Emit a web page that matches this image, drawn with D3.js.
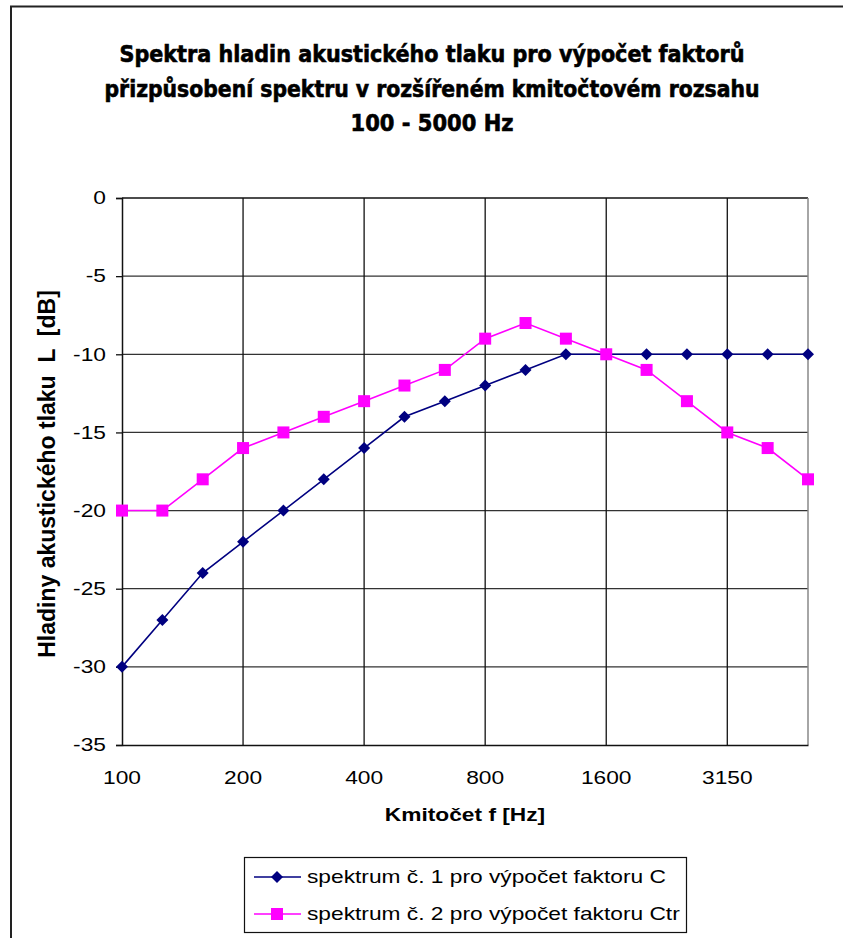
<!DOCTYPE html>
<html>
<head>
<meta charset="utf-8">
<script src="https://cdn.jsdelivr.net/npm/d3@7/dist/d3.min.js"></script>
<style>
  html, body { margin: 0; padding: 0; background: #fff; }
  svg { display: block; }
</style>
</head>
<body>
<svg id="chart" width="843" height="938"></svg>
<script>
// Third-octave band centre frequencies (Hz)
const frequencies = ["100","125","160","200","250","315","400","500","630","800","1000","1250","1600","2000","2500","3150","4000","5000"];
// Labelled frequency ticks
const tickLabels = ["100","200","400","800","1600","3150"];
// Value axis ticks (dB)
const yTicks = [0,-5,-10,-15,-20,-25,-30,-35];
// Spectrum No. 1 (for C)
const spectrum1 = [-30,-27,-24,-22,-20,-18,-16,-14,-13,-12,-11,-10,-10,-10,-10,-10,-10,-10];
// Spectrum No. 2 (for Ctr)
const spectrum2 = [-20,-20,-18,-16,-15,-14,-13,-12,-11,-9,-8,-9,-10,-11,-13,-15,-16,-18];

const titleLines = [
  "Spektra hladin akustického tlaku pro výpočet faktorů",
  "přizpůsobení spektru v rozšířeném kmitočtovém rozsahu",
  "100 - 5000 Hz"
];
const seriesNames = [
  "spektrum č. 1 pro výpočet faktoru C",
  "spektrum č. 2 pro výpočet faktoru Ctr"
];

const svg = d3.select("#chart");
const plot = { left: 122, right: 808, top: 198, bottom: 745 };
const font = "'Liberation Sans', Arial, sans-serif";
const stretch = 1.3;   // horizontally widened label type

// Places a horizontally widened label at (x, y)
function label(parent, x, y, str, opts = {}) {
  return parent.append("text")
    .attr("transform", `translate(${x},${y}) scale(${stretch},1)`)
    .attr("text-anchor", opts.anchor || "start")
    .attr("dy", opts.dy || null)
    .attr("font-family", font)
    .attr("font-size", opts.size || 17.5)
    .attr("font-weight", opts.weight || "normal")
    .attr("fill", "#000")
    .text(str);
}

// Outer frame (top and left edges)
svg.append("path")
  .attr("d", "M11,938 V6.5 H843")
  .attr("fill", "none").attr("stroke", "#222").attr("stroke-width", 2);

// Title (heavy, condensed)
const titleWidths = [625, 655, 163];
const titleBase = [62, 97, 131];
svg.append("g").selectAll("text").data(titleLines).join("text")
  .attr("x", 432).attr("y", (d, i) => titleBase[i])
  .attr("text-anchor", "middle")
  .attr("font-family", "'Liberation Sans Narrow', 'DejaVu Sans Condensed', Arial, sans-serif")
  .attr("font-weight", "bold").attr("font-size", 23.5)
  .attr("stroke", "#000").attr("stroke-width", 0.6)
  .attr("textLength", (d, i) => titleWidths[i])
  .attr("lengthAdjust", "spacingAndGlyphs")
  .text(d => d);

// Scales
const x = d3.scalePoint().domain(frequencies).range([plot.left, plot.right]);
const y = d3.scaleLinear().domain([-35, 0]).range([plot.bottom, plot.top]);

// Horizontal gridlines
svg.append("g").selectAll("line").data(yTicks.filter(v => v !== 0 && v !== -35)).join("line")
  .attr("x1", plot.left).attr("x2", plot.right)
  .attr("y1", d => y(d)).attr("y2", d => y(d))
  .attr("stroke", "#333").attr("stroke-width", 1.3);

// Vertical gridlines at labelled frequencies
svg.append("g").selectAll("line").data(tickLabels.filter(f => f !== "100")).join("line")
  .attr("x1", d => x(d)).attr("x2", d => x(d))
  .attr("y1", plot.top).attr("y2", plot.bottom)
  .attr("stroke", "#111").attr("stroke-width", 1.3);

// Plot border: top, right (grey)
svg.append("line").attr("x1", plot.left).attr("x2", plot.right)
  .attr("y1", plot.top).attr("y2", plot.top).attr("stroke", "#111").attr("stroke-width", 1.5);
svg.append("line").attr("x1", plot.right).attr("x2", plot.right)
  .attr("y1", plot.top).attr("y2", plot.bottom).attr("stroke", "#888").attr("stroke-width", 1.5);

// Y axis (line and ticks), labels drawn separately
const yAxis = d3.axisLeft(y).tickValues(yTicks).tickSize(6).tickFormat("");
const yg = svg.append("g").attr("transform", `translate(${plot.left},0)`).call(yAxis);
yg.select(".domain").attr("stroke", "#111").attr("stroke-width", 1.5);
yg.selectAll(".tick line").attr("stroke", "#111").attr("stroke-width", 1.3);
const yLabels = svg.append("g");
yTicks.forEach(v => label(yLabels, 106, y(v), v === 0 ? "0" : "-" + Math.abs(v), { anchor: "end", dy: "0.36em" }));

// X axis (line), labels drawn separately
const xAxis = d3.axisBottom(x).tickValues(tickLabels).tickSize(0).tickFormat("");
const xg = svg.append("g").attr("transform", `translate(0,${plot.bottom})`).call(xAxis);
xg.select(".domain").attr("stroke", "#111").attr("stroke-width", 1.5);
const xLabels = svg.append("g");
tickLabels.forEach(f => label(xLabels, x(f), 784, f, { anchor: "middle" }));

// Axis titles
label(svg, 465, 821, "Kmitočet f [Hz]", { anchor: "middle", weight: "bold" });
svg.append("text").attr("transform", "translate(55,474) rotate(-90)").attr("text-anchor", "middle")
  .attr("font-family", font).attr("font-weight", "bold").attr("font-size", 23)
  .attr("xml:space", "preserve")
  .text("Hladiny akustického tlaku  L  [dB]");

// Series
const series = [
  { values: spectrum1, color: "#000080", marker: "diamond" },
  { values: spectrum2, color: "#FF00FF", marker: "square" }
];
const line = d3.line().x((d, i) => x(frequencies[i])).y(d => y(d));
function drawMarker(g, type, color) {
  if (type === "diamond") {
    g.append("path").attr("d", "M0,-6 L6,0 L0,6 L-6,0 Z").attr("fill", color);
  } else {
    g.append("rect").attr("x", -6).attr("y", -6).attr("width", 12).attr("height", 12).attr("fill", color);
  }
}
series.forEach(s => {
  svg.append("path").datum(s.values).attr("d", line)
    .attr("fill", "none").attr("stroke", s.color).attr("stroke-width", 1.6);
  svg.append("g").selectAll("g").data(s.values).join("g")
    .attr("transform", (d, i) => `translate(${x(frequencies[i])},${y(d)})`)
    .each(function () { drawMarker(d3.select(this), s.marker, s.color); });
});

// Legend
const legend = svg.append("g");
legend.append("rect").attr("x", 244.5).attr("y", 857.5).attr("width", 442).attr("height", 75)
  .attr("fill", "#fff").attr("stroke", "#111").attr("stroke-width", 1.2);
const legendY = [877, 914];
series.forEach((s, i) => {
  legend.append("line").attr("x1", 254).attr("x2", 301).attr("y1", legendY[i]).attr("y2", legendY[i])
    .attr("stroke", s.color).attr("stroke-width", 1.6);
  const m = legend.append("g").attr("transform", `translate(277,${legendY[i]})`);
  drawMarker(m, s.marker, s.color);
  label(legend, 307, legendY[i] + 6, seriesNames[i]);
});
</script>
</body>
</html>
